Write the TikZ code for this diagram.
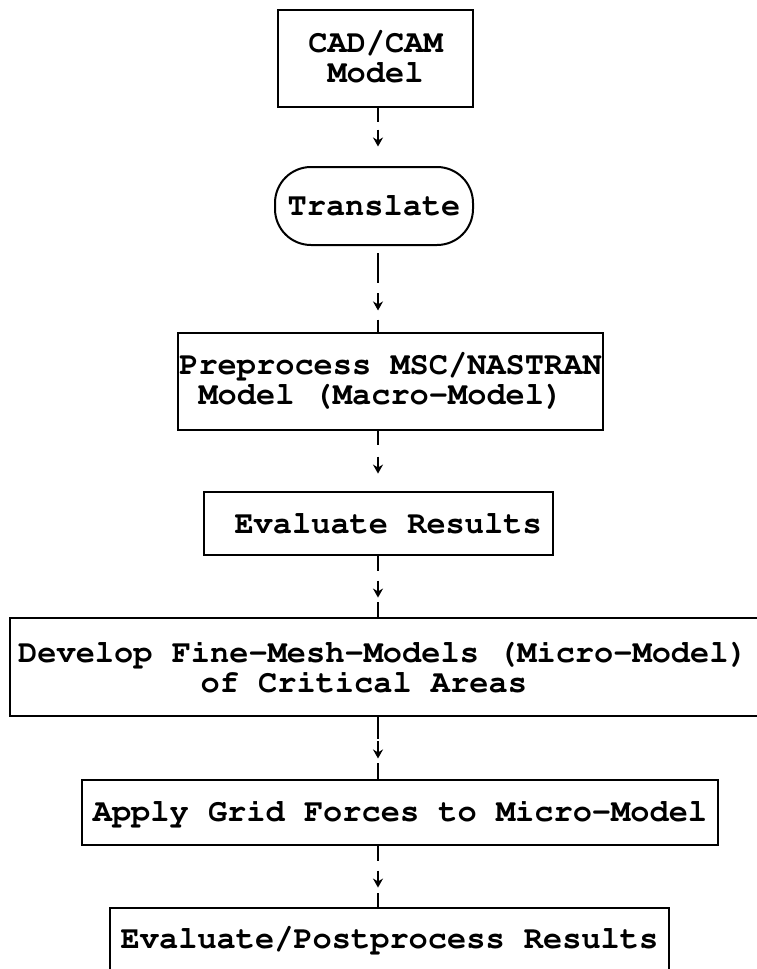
\documentclass[tikz,border=0pt]{standalone}
\usepackage[T1]{fontenc}
\usepackage{courier}
\usetikzlibrary{arrows.meta,decorations.markings}
\newcommand{\boxfont}{\fontsize{32}{30}\selectfont\ttfamily\bfseries}
\newcommand{\SPINE}{378}

\tikzset{
  stepbox/.style={draw,line width=2pt,font=\boxfont,inner sep=0pt,align=center},
  roundbox/.style={stepbox,rounded corners=36pt},
  piece/.style={line width=2.6pt},
  % connector: a top piece, an arrow in the middle, a bottom piece
  flow/.style n args={3}{decorate,decoration={markings,
      mark=at position 0pt with {\draw[piece] (0,0) -- (#1,0);},
      mark=at position #2 with {\draw[piece,-{Stealth[length=9pt,width=10pt]}] (-9pt,0) -- (8pt,0);},
      mark=at position -#3 with {\draw[piece] (0,0) -- (#3,0);}}},
}

\begin{document}
\begin{tikzpicture}[x=1pt,y=-1pt]

    \useasboundingbox (0,0) rectangle (757,969);
    \clip (0,0) rectangle (757,969);
    \coordinate (spine) at (\SPINE,0);

    \node[stepbox,minimum width=195pt,minimum height=97pt](cad) at (375.5,58) {CAD/CAM\\Model};
    \node[roundbox,minimum width=198pt,minimum height=78pt](trans) at (374,206) {Translate};
    \node[stepbox,align=left,minimum width=425pt,minimum height=97pt](prep) at (390.5,381)
        {Preprocess MSC/NASTRAN\\~Model (Macro-Model)};
    \node[stepbox,minimum width=349pt,minimum height=63pt](eval) at (378.5,523.5) {~Evaluate Results};
    \node[stepbox,align=left,minimum width=772pt,minimum height=98pt](fine) at (396,667)
        {Develop Fine-Mesh-Models (Micro-Model)\rule{26pt}{0pt}\\\hspace*{5.7em}of Critical Areas};
    \node[stepbox,minimum width=636pt,minimum height=65pt](apply) at (400,812.5) {Apply Grid Forces to Micro-Model};
    \node[stepbox,minimum width=559pt,minimum height=66pt](post) at (389.5,941) {Evaluate/Postprocess Results};

    % the connectors all run down one vertical line
    \path[flow={14pt}{0.53}{0.1pt}] (cad.south -| spine) -- (trans.north -| spine);
    \path[flow={30pt}{0.63}{12pt}] ([yshift=-7pt]trans.south -| spine) -- (prep.north -| spine);
    \path[flow={14pt}{0.58}{0.1pt}] (prep.south -| spine) -- (eval.north -| spine);
    \path[flow={15pt}{0.55}{15pt}] (eval.south -| spine) -- (fine.north -| spine);
    \path[flow={22pt}{0.54}{16pt}] (fine.south -| spine) -- (apply.north -| spine);
    \path[flow={15pt}{0.55}{14pt}] (apply.south -| spine) -- (post.north -| spine);

    \end{tikzpicture}
\end{document}
